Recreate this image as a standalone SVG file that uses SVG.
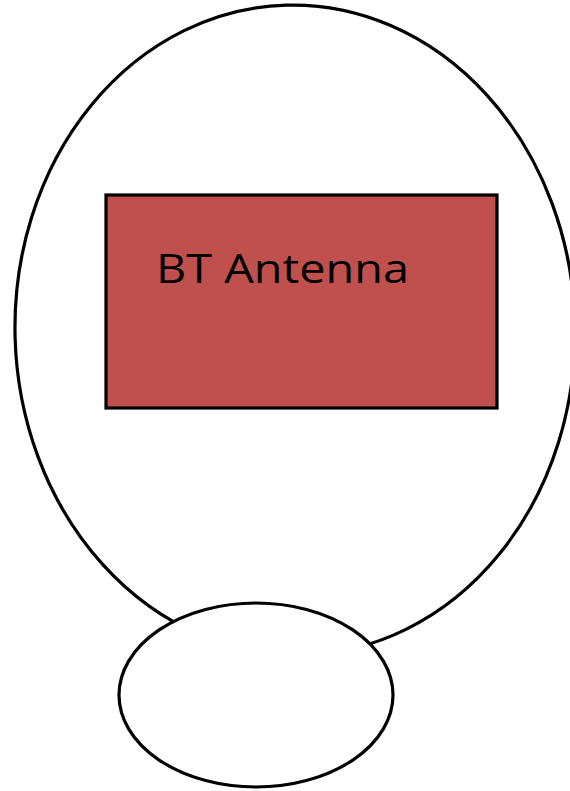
<svg xmlns="http://www.w3.org/2000/svg" width="570" height="791" viewBox="0 0 570 791">
  <style>
    .outline { fill: #ffffff; stroke: #000000; stroke-width: 3.2; }
    .box { fill: #C0504D; stroke: #000000; stroke-width: 3.2; }
    .label { font-family: "Open Sans", "Liberation Sans", sans-serif; font-size: 41px; fill: #000000; }
  </style>
  <rect width="570" height="791" fill="#ffffff"/>
  <g id="head">
    <ellipse class="outline" cx="295" cy="330" rx="280" ry="325" transform="rotate(-1.5 295 330)"/>
  </g>
  <g id="bt-antenna">
    <rect class="box" x="106" y="195" width="391" height="213"/>
    <text class="label" x="156" y="283" textLength="253" lengthAdjust="spacingAndGlyphs">BT Antenna</text>
  </g>
  <g id="base">
    <ellipse class="outline" cx="256" cy="695" rx="137" ry="92"/>
  </g>
  <g id="connectors"/>
</svg>
